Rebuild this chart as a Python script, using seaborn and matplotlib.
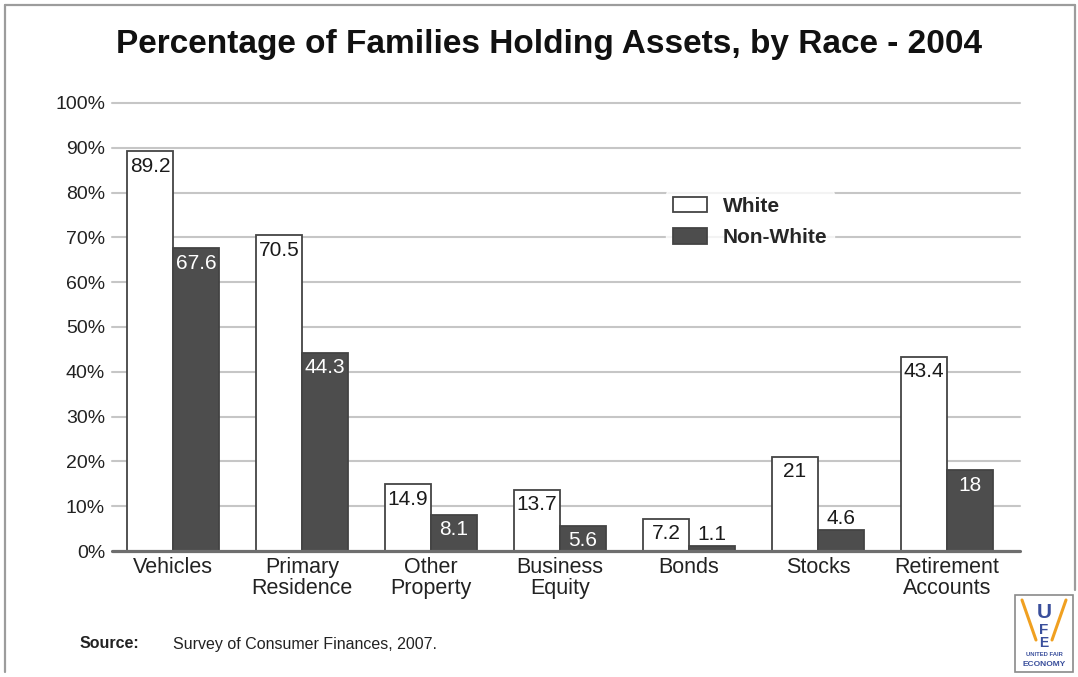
import matplotlib
matplotlib.use("Agg")
import matplotlib.pyplot as plt
from matplotlib.patches import Patch, Rectangle
from matplotlib.lines import Line2D
import seaborn as sns
import pandas as pd

# Asset categories and percentage of families holding each
categories = ["Vehicles", "Primary\nResidence", "Other\nProperty", "Business\nEquity",
              "Bonds", "Stocks", "Retirement\nAccounts"]
groups = ["White", "Non-White"]
white_pct = [89.2, 70.5, 14.9, 13.7, 7.2, 21, 43.4]
nonwhite_pct = [67.6, 44.3, 8.1, 5.6, 1.1, 4.6, 18]
y_ticks = [0, 10, 20, 30, 40, 50, 60, 70, 80, 90, 100]
y_tick_labels = [f"{t}%" for t in y_ticks]

df = pd.DataFrame({
    "Asset": categories * 2,
    "Group": [groups[0]] * len(categories) + [groups[1]] * len(categories),
    "Pct": white_pct + nonwhite_pct,
})

sns.set_theme(style="white")
plt.rcParams["font.family"] = ["Liberation Sans", "DejaVu Sans"]

W, H = 1078, 677
fig = plt.figure(figsize=(W / 100, H / 100), dpi=100)
fig.patch.set_facecolor("white")

def px(x0, y0, x1, y1):
    return [x0 / W, 1 - y1 / H, (x1 - x0) / W, (y1 - y0) / H]

AX_L, AX_R = 108.5, 1011.5
ax = fig.add_axes(px(AX_L, 103, AX_R, 551))

fill = {"White": "#ffffff", "Non-White": "#4d4d4d"}
sns.barplot(data=df, x="Asset", y="Pct", hue="Group", hue_order=groups,
            order=categories, palette=fill, width=0.713, gap=0,
            edgecolor="#444444", linewidth=1.3, legend=False, ax=ax, zorder=3)

n = len(categories)
ax.set_xlim(-0.5, n - 0.5)
ax.set_ylim(0, 100)
ax.set_yticks(y_ticks)
ax.set_yticklabels(y_tick_labels, fontsize=14, color="#222222")
ax.set_xlabel("")
ax.set_ylabel("")
ax.tick_params(axis="y", length=0, pad=2.5)
ax.tick_params(axis="x", length=0, pad=4, labelsize=15.5, labelcolor="#222222")
for lbl in ax.get_xticklabels():
    lbl.set_linespacing(1.0)
    lbl.set_va("top")

# gridlines run a little past the plotting area on both sides
unit = (AX_R - AX_L) / n
gx0 = -0.5 - (AX_L - 112) / unit
gx1 = n - 0.5 + (1020 - AX_R) / unit
for t in y_ticks[1:]:
    ax.plot([gx0, gx1], [t, t], color="#c6c6c6", lw=1.5, zorder=1, clip_on=False)
for s in ax.spines.values():
    s.set_visible(False)
# baseline at 0%
ax.plot([gx0, gx1], [0, 0], color="#6e6e6e", lw=2.3, zorder=4, clip_on=False)

# value labels
for cont, grp in zip(ax.containers, groups):
    for bar, val in zip(cont, df.loc[df["Group"] == grp, "Pct"]):
        x = bar.get_x() + bar.get_width() / 2
        h = bar.get_height()
        txt = f"{val:g}"
        if h >= 5.5:
            color = "#1a1a1a" if grp == "White" else "white"
            ax.text(x, h - 1.2, txt, ha="center", va="top", fontsize=15,
                    color=color, zorder=5)
        else:
            ax.text(x, h + 0.5, txt, ha="center", va="bottom", fontsize=15,
                    color="#1a1a1a", zorder=5)

# legend
handles = [Patch(facecolor=fill[g], edgecolor="#444444", lw=1.3, label=g) for g in groups]
leg = fig.legend(handles=handles, loc="upper left",
                 bbox_to_anchor=(656 / W, 1 - 180 / H), frameon=True,
                 prop={"weight": "bold", "size": 15},
                 handlelength=1.65, handleheight=0.75, handletextpad=0.75,
                 labelspacing=0.6, borderpad=0.3)
leg.get_frame().set_facecolor("white")
leg.get_frame().set_edgecolor("white")

# title
fig.text(549 / W, 1 - 45 / H, "Percentage of Families Holding Assets, by Race - 2004",
         ha="center", va="center", fontsize=24, fontweight="bold", color="#111111")

# source note
fig.text(80 / W, 1 - 644 / H, "Source:", ha="left", va="center",
         fontsize=11.5, fontweight="bold", color="#222222")
fig.text(173 / W, 1 - 644 / H, "Survey of Consumer Finances, 2007.", ha="left",
         va="center", fontsize=11.5, color="#222222")

# outer frame
for (x0, y0, x1, y1) in [(5, 5, 1075, 5), (5, 5, 5, 672), (1075, 5, 1075, 590)]:
    fig.add_artist(Line2D([x0 / W, x1 / W], [1 - y0 / H, 1 - y1 / H],
                          color="#9c9c9c", lw=1.6))

# organisation badge
lx0, ly0, lx1, ly1 = 1015, 595, 1073, 672
fig.add_artist(Rectangle((lx0 / W, 1 - ly1 / H), (lx1 - lx0) / W, (ly1 - ly0) / H,
                         transform=fig.transFigure, facecolor="white",
                         edgecolor="#8a8a8a", lw=1.2))
for (x0, y0, x1, y1) in [(1022, 600, 1036, 640), (1066, 600, 1052, 640)]:
    fig.add_artist(Line2D([x0 / W, x1 / W], [1 - y0 / H, 1 - y1 / H],
                          color="#f0a020", lw=2.2))
fig.text(1044 / W, 1 - 612 / H, "U", ha="center", va="center", fontsize=15,
         fontweight="bold", color="#3a4f9c")
fig.text(1044 / W, 1 - 630 / H, "F", ha="center", va="center", fontsize=11,
         fontweight="bold", color="#3a4f9c")
fig.text(1044 / W, 1 - 643 / H, "E", ha="center", va="center", fontsize=10,
         fontweight="bold", color="#3a4f9c")
fig.text(1044 / W, 1 - 655 / H, "UNITED FAIR", ha="center", va="center",
         fontsize=4.2, fontweight="bold", color="#3a4f9c")
fig.text(1044 / W, 1 - 664 / H, "ECONOMY", ha="center", va="center",
         fontsize=6, fontweight="bold", color="#3a4f9c")

fig.savefig("out.png", dpi=100, facecolor="white")
